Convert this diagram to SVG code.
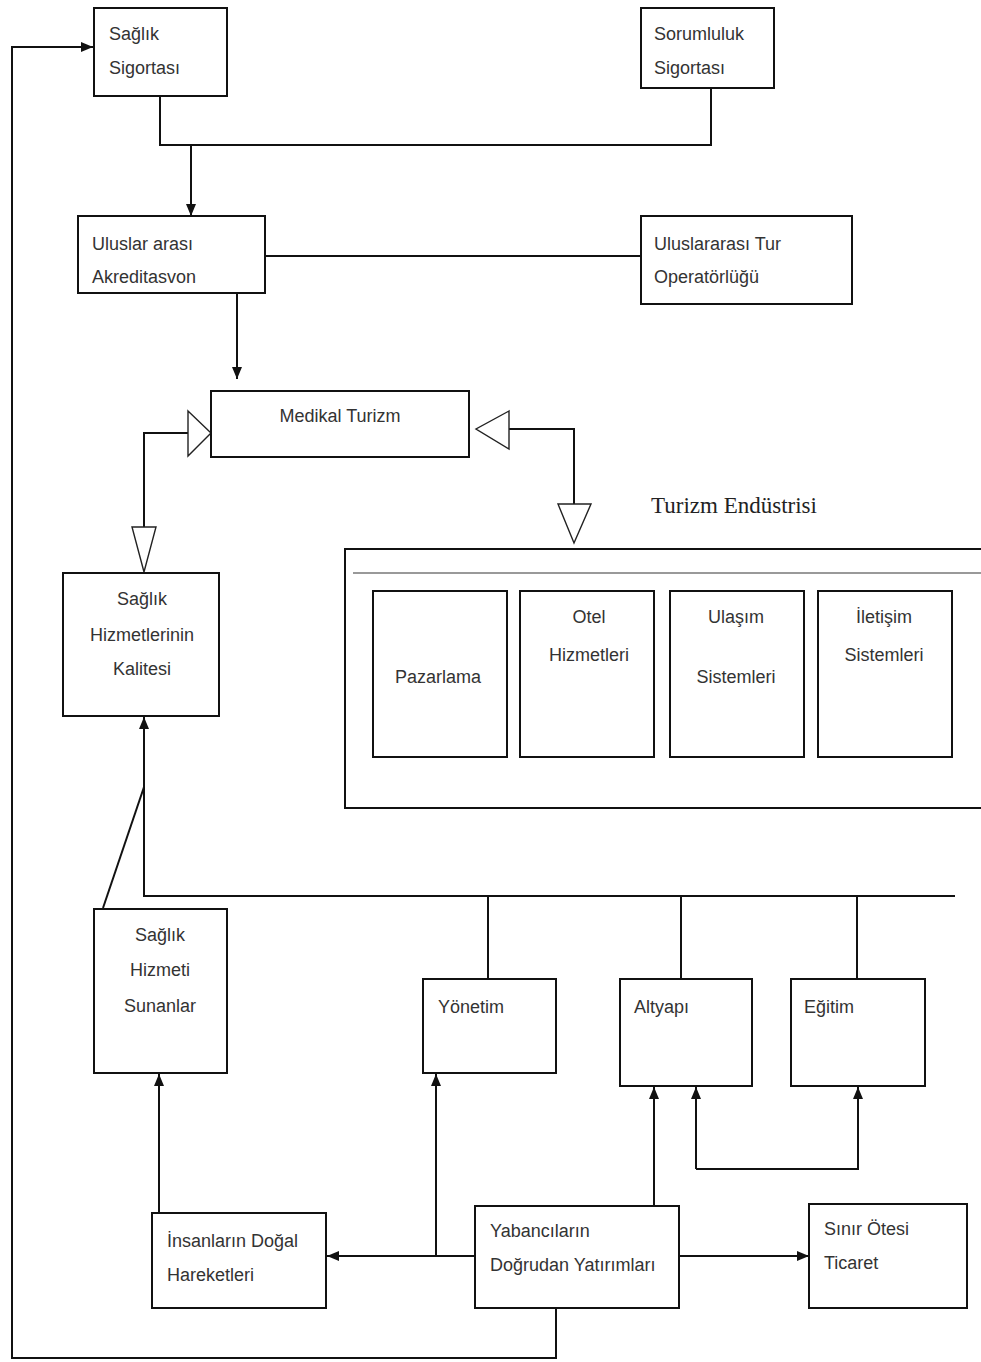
<svg xmlns="http://www.w3.org/2000/svg" width="981" height="1362" viewBox="0 0 981 1362">
<defs>
<style>
.box{fill:#fff;stroke:#111;stroke-width:2}
.t{font-family:"Liberation Sans",Arial,sans-serif;font-size:18px;fill:#333}
.c{text-anchor:middle}
.ln{fill:none;stroke:#111;stroke-width:2}
.tri{fill:#fff;stroke:#222;stroke-width:1.4}
.serif{font-family:"Liberation Serif","Times New Roman",serif;font-size:23px;fill:#222}
</style>
<marker id="ah" markerUnits="userSpaceOnUse" markerWidth="14" markerHeight="12" refX="12" refY="5" orient="auto">
<path d="M0,0 L12,5 L0,10 z" fill="#111"/>
</marker>
</defs>
<rect width="981" height="1362" fill="#fff"/>

<g id="connectors">
<polyline class="ln" points="160,96 160,145 711,145 711,88"/>
<line class="ln" x1="191" y1="145" x2="191" y2="216" marker-end="url(#ah)"/>
<line class="ln" x1="265" y1="256" x2="641" y2="256"/>
<line class="ln" x1="237" y1="293" x2="237" y2="379" marker-end="url(#ah)"/>
<polyline class="ln" points="188,433 144,433 144,527"/>
<polygon class="tri" points="188,411 211,433 188,456"/>
<polygon class="tri" points="132,527 156,527 144,572"/>
<polyline class="ln" points="509,429 574,429 574,504"/>
<polygon class="tri" points="509,411 476,429 509,449"/>
<polygon class="tri" points="558,504 591,504 574,543"/>
<polyline class="ln" points="955,896 144,896 144,717" marker-end="url(#ah)"/>
<line class="ln" x1="144" y1="787" x2="103" y2="908"/>
<line class="ln" x1="488" y1="896" x2="488" y2="979"/>
<line class="ln" x1="681" y1="896" x2="681" y2="979"/>
<line class="ln" x1="857" y1="896" x2="857" y2="979"/>
<line class="ln" x1="159" y1="1213" x2="159" y2="1074" marker-end="url(#ah)"/>
<line class="ln" x1="475" y1="1256" x2="327" y2="1256" marker-end="url(#ah)"/>
<line class="ln" x1="436" y1="1256" x2="436" y2="1074" marker-end="url(#ah)"/>
<line class="ln" x1="654" y1="1206" x2="654" y2="1087" marker-end="url(#ah)"/>
<line class="ln" x1="696" y1="1169" x2="696" y2="1087" marker-end="url(#ah)"/>
<polyline class="ln" points="696,1169 858,1169 858,1087" marker-end="url(#ah)"/>
<line class="ln" x1="679" y1="1256" x2="809" y2="1256" marker-end="url(#ah)"/>
<polyline class="ln" points="556,1308 556,1358 12,1358 12,47 93,47" marker-end="url(#ah)"/>
</g>

<g id="saglik-sigortasi">
<rect class="box" x="94" y="8" width="133" height="88"/>
<text class="t" x="109" y="40">Sağlık</text>
<text class="t" x="109" y="74">Sigortası</text>
</g>
<g id="sorumluluk-sigortasi">
<rect class="box" x="641" y="8" width="133" height="80"/>
<text class="t" x="654" y="40">Sorumluluk</text>
<text class="t" x="654" y="74">Sigortası</text>
</g>
<g id="uluslar-arasi-akreditasvon">
<rect class="box" x="78" y="216" width="187" height="77"/>
<text class="t" x="92" y="250">Uluslar arası</text>
<text class="t" x="92" y="283">Akreditasvon</text>
</g>
<g id="uluslararasi-tur-operatorlugu">
<rect class="box" x="641" y="216" width="211" height="88"/>
<text class="t" x="654" y="250">Uluslararası Tur</text>
<text class="t" x="654" y="283">Operatörlüğü</text>
</g>
<g id="medikal-turizm">
<rect class="box" x="211" y="391" width="258" height="66"/>
<text class="t c" x="340" y="422">Medikal Turizm</text>
</g>
<g id="saglik-hizmetlerinin-kalitesi">
<rect class="box" x="63" y="573" width="156" height="143"/>
<text class="t c" x="142" y="605">Sağlık</text>
<text class="t c" x="142" y="641">Hizmetlerinin</text>
<text class="t c" x="142" y="675">Kalitesi</text>
</g>
<g id="turizm-endustrisi">
<text class="serif" x="651" y="513">Turizm Endüstrisi</text>
<rect class="box" x="345" y="549" width="650" height="259"/>
<line x1="353" y1="573" x2="981" y2="573" stroke="#777" stroke-width="1.6"/>
<g id="pazarlama">
<rect class="box" x="373" y="591" width="134" height="166"/>
<text class="t c" x="438" y="683">Pazarlama</text>
</g>
<g id="otel-hizmetleri">
<rect class="box" x="520" y="591" width="134" height="166"/>
<text class="t c" x="589" y="623">Otel</text>
<text class="t c" x="589" y="661">Hizmetleri</text>
</g>
<g id="ulasim-sistemleri">
<rect class="box" x="670" y="591" width="134" height="166"/>
<text class="t c" x="736" y="623">Ulaşım</text>
<text class="t c" x="736" y="683">Sistemleri</text>
</g>
<g id="iletisim-sistemleri">
<rect class="box" x="818" y="591" width="134" height="166"/>
<text class="t c" x="884" y="623">İletişim</text>
<text class="t c" x="884" y="661">Sistemleri</text>
</g>
</g>
<g id="saglik-hizmeti-sunanlar">
<rect class="box" x="94" y="909" width="133" height="164"/>
<text class="t c" x="160" y="941">Sağlık</text>
<text class="t c" x="160" y="976">Hizmeti</text>
<text class="t c" x="160" y="1012">Sunanlar</text>
</g>
<g id="yonetim">
<rect class="box" x="423" y="979" width="133" height="94"/>
<text class="t" x="438" y="1013">Yönetim</text>
</g>
<g id="altyapi">
<rect class="box" x="620" y="979" width="132" height="107"/>
<text class="t" x="634" y="1013">Altyapı</text>
</g>
<g id="egitim">
<rect class="box" x="791" y="979" width="134" height="107"/>
<text class="t" x="804" y="1013">Eğitim</text>
</g>
<g id="insanlarin-dogal-hareketleri">
<rect class="box" x="152" y="1213" width="174" height="95"/>
<text class="t" x="167" y="1247">İnsanların Doğal</text>
<text class="t" x="167" y="1281">Hareketleri</text>
</g>
<g id="yabancilarin-dogrudan-yatirimlari">
<rect class="box" x="475" y="1206" width="204" height="102"/>
<text class="t" x="490" y="1237">Yabancıların</text>
<text class="t" x="490" y="1271">Doğrudan Yatırımları</text>
</g>
<g id="sinir-otesi-ticaret">
<rect class="box" x="809" y="1204" width="158" height="104"/>
<text class="t" x="824" y="1235">Sınır Ötesi</text>
<text class="t" x="824" y="1269">Ticaret</text>
</g>
</svg>
